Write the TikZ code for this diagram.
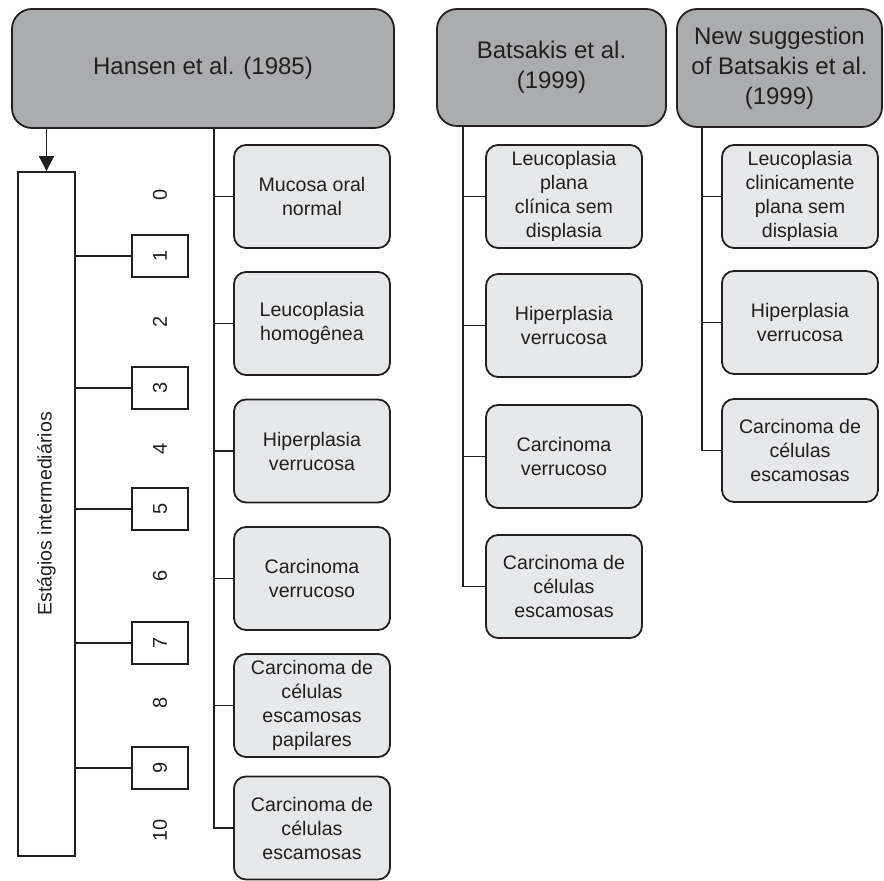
\documentclass[tikz,border=0pt]{standalone}
\usepackage{fontspec}
\setmainfont{Liberation Sans}
\usetikzlibrary{arrows.meta}
\definecolor{headgray}{RGB}{171,172,174}
\definecolor{itemgray}{RGB}{231,232,233}
\definecolor{inkgray}{RGB}{35,31,32}
\begin{document}
\begin{tikzpicture}[x=0.5pt,y=-0.5pt,line width=0.9pt,color=inkgray,
  header/.style={draw, fill=headgray, rounded corners=10pt, align=center,
    inner sep=0pt, font=\fontsize{12}{15}\selectfont},
  item/.style={draw, fill=itemgray, rounded corners=6pt, align=center,
    minimum width=78pt, minimum height=51.5pt, inner sep=0pt,
    font=\fontsize{9.8}{12}\selectfont},
  stagebox/.style={draw, fill=white, minimum width=28.5pt, minimum height=342pt,
    inner sep=0pt, font=\fontsize{9.8}{12}\selectfont},
  numbox/.style={draw, fill=white, minimum width=28pt, minimum height=21pt,
    inner sep=0pt, font=\fontsize{10}{12}\selectfont},
  numlabel/.style={rotate=90, inner sep=0pt, font=\fontsize{10}{12}\selectfont}]
  \useasboundingbox (0,0) rectangle (884,881);
  % column heads
  \node[header, minimum width=191pt, minimum height=59.5pt] (hansen) at (203,68.5) {Hansen et al. (1985)};
  \node[header, minimum width=114.5pt, minimum height=58.5pt] (bats) at (551.5,67.5) {Batsakis et al.\\(1999)};
  \node[header, minimum width=102.5pt, minimum height=59pt] (newsug) at (779.5,68) {New suggestion\\of Batsakis et al.\\(1999)};
  % intermediate stages
  \node[stagebox] (stages) at (46.5,514) {\rotatebox{90}{Estágios intermediários}};
  \draw[-{Triangle[width=7.5pt,length=7.5pt]}] (stages.north |- hansen.south) -- (stages.north);
  \foreach \y/\k in {256/1, 388/3, 509/5, 643/7, 768/9} {
    \node[numbox] (n\k) at (160,\y) {\rotatebox{90}{\k}};
    \draw (stages.east |- n\k.west) -- (n\k.west);
  }
  \foreach \y/\k in {195/0, 322/2, 449/4, 576/6, 703/8, 830/10} {
    \node[numlabel] (e\k) at (160,\y) {\k};
  }
  % Hansen
  \coordinate (htrunk) at (214,0);
  \node[item] (h1) at (312,196.5) {Mucosa oral\\normal};
  \node[item] (h2) at (312,323.5) {Leucoplasia\\homogênea};
  \node[item] (h3) at (312,451) {Hiperplasia\\verrucosa};
  \node[item] (h4) at (312,578.5) {Carcinoma\\verrucoso};
  \node[item] (h5) at (312,705.5) {Carcinoma de\\células\\escamosas\\papilares};
  \node[item] (h6) at (312,828) {Carcinoma de\\células\\escamosas};
  \draw (hansen.south -| htrunk) |- (h6.west);
  \foreach \n in {1,...,5} {
       \draw (h\n.west) -- (h\n.west -| htrunk);
  }
  % Batsakis
  \coordinate (btrunk) at (463,0);
  \node[item] (b1) at (564,196.5) {Leucoplasia\\plana\\clínica sem\\displasia};
  \node[item] (b2) at (564,325.5) {Hiperplasia\\verrucosa};
  \node[item] (b3) at (564,456.5) {Carcinoma\\verrucoso};
  \node[item] (b4) at (564,586.5) {Carcinoma de\\células\\escamosas};
  \draw (bats.south -| btrunk) |- (b4.west);
  \foreach \n in {1,...,3} {
       \draw (b\n.west) -- (b\n.west -| btrunk);
  }
  % new suggestion
  \coordinate (strunk) at (702,0);
  \node[item] (s1) at (800,196.5) {Leucoplasia\\clinicamente\\plana sem\\displasia};
  \node[item] (s2) at (800,322.5) {Hiperplasia\\verrucosa};
  \node[item] (s3) at (800,450.5) {Carcinoma de\\células\\escamosas};
  \draw (newsug.south -| strunk) |- (s3.west);
  \foreach \n in {1,2} {
       \draw (s\n.west) -- (s\n.west -| strunk);
  }
\end{tikzpicture}
\end{document}
